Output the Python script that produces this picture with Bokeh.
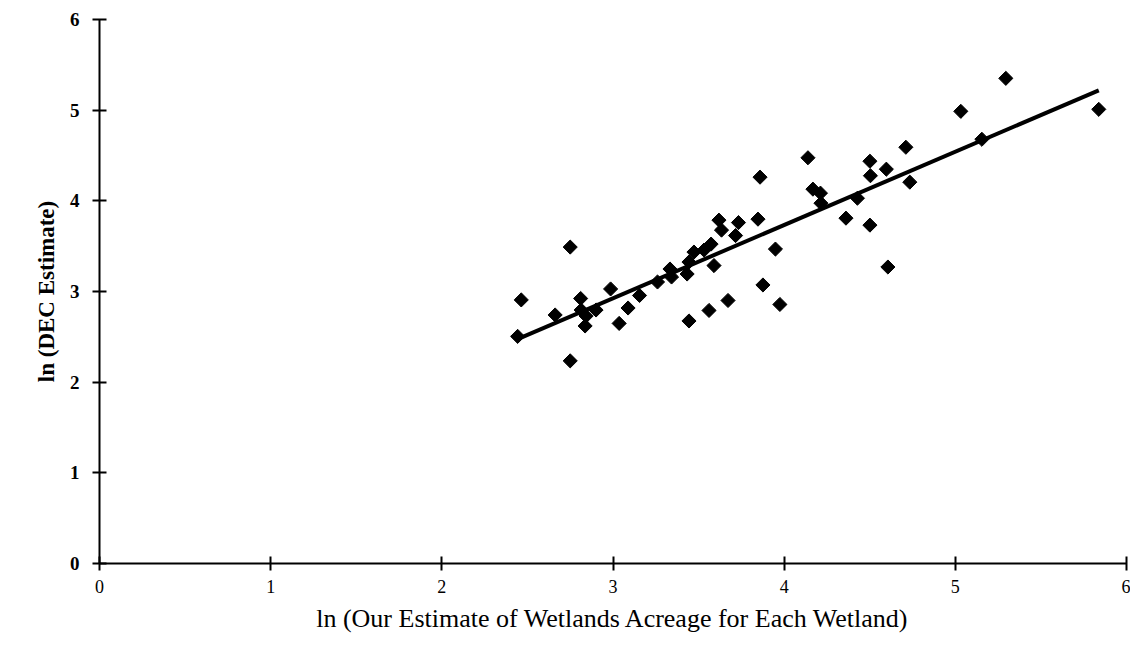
import numpy as np
from bokeh.plotting import figure
from bokeh.models import Range1d, FixedTicker, ColumnDataSource
from bokeh.embed import file_html
from bokeh.resources import INLINE

# Data (ln our estimate, ln DEC estimate)
our_est = [2.443, 2.464, 2.662, 2.750, 2.750, 2.811, 2.814, 2.843, 2.837, 2.901,
           2.986, 3.036, 3.088, 3.155, 3.260, 3.333, 3.342, 3.433, 3.444, 3.444,
           3.473, 3.532, 3.561, 3.573, 3.590, 3.619, 3.634, 3.672, 3.733, 3.716,
           3.859, 3.847, 3.876, 3.949, 3.975, 4.139, 4.168, 4.212, 4.215, 4.361,
           4.428, 4.501, 4.504, 4.501, 4.597, 4.711, 4.734, 4.606, 5.032, 5.155,
           5.295, 5.838]
dec_est = [2.505, 2.907, 2.741, 3.490, 2.235, 2.923, 2.796, 2.730, 2.620, 2.796,
           3.028, 2.648, 2.818, 2.956, 3.105, 3.248, 3.160, 3.193, 2.675, 3.325,
           3.435, 3.457, 2.791, 3.523, 3.286, 3.787, 3.677, 2.901, 3.760, 3.617,
           4.261, 3.798, 3.072, 3.468, 2.857, 4.475, 4.129, 4.085, 3.974, 3.809,
           4.029, 4.437, 4.277, 3.732, 4.349, 4.591, 4.206, 3.270, 4.987, 4.679,
           5.351, 5.009]

# Fitted regression line endpoints
fit_x = [2.446, 5.838]
fit_y = [2.477, 5.219]

ticks = [0, 1, 2, 3, 4, 5, 6]

p = figure(width=1130, height=635, output_backend="svg", toolbar_location=None,
           x_range=Range1d(0, 6), y_range=Range1d(0, 6),
           min_border_left=99, min_border_right=4, min_border_top=19, min_border_bottom=0)

p.outline_line_color = None
p.xgrid.grid_line_color = None
p.ygrid.grid_line_color = None
p.background_fill_color = "white"

src = ColumnDataSource(dict(x=our_est, y=dec_est))
p.scatter("x", "y", source=src, marker="square", size=10, angle=np.pi / 4,
          fill_color="black", line_color="black")
p.line(fit_x, fit_y, line_color="black", line_width=4)

for ax in (p.xaxis[0], p.yaxis[0]):
    ax.ticker = FixedTicker(ticks=ticks)
    ax.axis_line_color = "black"
    ax.axis_line_width = 2
    ax.major_tick_line_color = "black"
    ax.major_tick_line_width = 2
    ax.major_tick_in = 7
    ax.major_tick_out = 7
    ax.minor_tick_line_color = None
    ax.major_label_text_font = "Liberation Serif"
    ax.major_label_text_color = "black"
    ax.axis_label_text_font = "Liberation Serif"
    ax.axis_label_text_color = "black"

p.xaxis.axis_label = "ln (Our Estimate of Wetlands Acreage for Each Wetland)"
p.xaxis.axis_label_text_font_size = "26px"
p.xaxis.axis_label_text_font_style = "normal"
p.xaxis.major_label_text_font_size = "18px"
p.xaxis.major_label_standoff = 9
p.xaxis.axis_label_standoff = 8

p.yaxis.axis_label = "ln (DEC Estimate)"
p.yaxis.axis_label_text_font_size = "23px"
p.yaxis.axis_label_text_font_style = "bold"
p.yaxis.major_label_text_font_size = "19px"
p.yaxis.major_label_text_font_style = "bold"
p.yaxis.major_label_standoff = 13
p.yaxis.axis_label_standoff = 8

open("out.html", "w").write(file_html(p, INLINE))
